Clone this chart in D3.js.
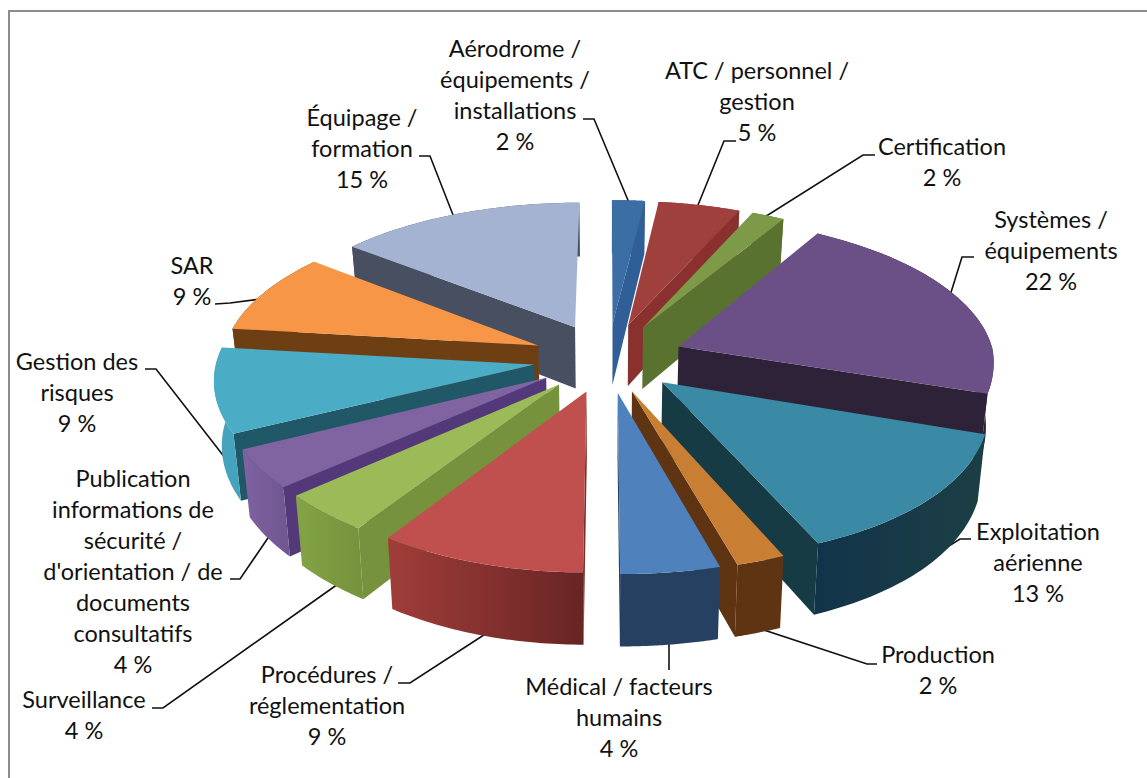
<!DOCTYPE html>
<html>
<head>
<meta charset="utf-8">
<script src="https://cdnjs.cloudflare.com/ajax/libs/d3/7.8.5/d3.min.js"></script>
<style>
  html, body { margin: 0; padding: 0; background: #fff; }
  text { font-family: Lato, "Open Sans", sans-serif; font-size: 23.5px; fill: #111; }
</style>
</head>
<body>
<div id="chart"></div>
<script>
//Share of occurrences per category, clockwise from the top of the pie
var categories = [
  ["Aérodrome /", "équipements /", "installations"],
  ["ATC / personnel /", "gestion"],
  ["Certification"],
  ["Systèmes /", "équipements"],
  ["Exploitation", "aérienne"],
  ["Production"],
  ["Médical / facteurs", "humains"],
  ["Procédures /", "réglementation"],
  ["Surveillance"],
  ["Publication", "informations de", "sécurité /", "d'orientation / de", "documents", "consultatifs"],
  ["Gestion des", "risques"],
  ["SAR"],
  ["Équipage /", "formation"]
];
var values = [2, 5, 2, 22, 13, 2, 4, 9, 4, 4, 9, 9, 15];

//Colours: top face, cut wall, outer wall (left end and right end of its gradient)
var faceColors = ["#3b6ea5", "#a0403d", "#7c9a47", "#6b5088", "#3a8aa6", "#c97f33", "#4f81bd", "#c0504d", "#9bbb59", "#8064a2", "#4bacc6", "#f79646", "#a5b3d3"];
var wallColors = ["#2f5f96", "#8a3130", "#5a7230", "#2e2238", "#163b45", "#5f3412", "#254061", "#7a2d2b", "#76923c", "#54397a", "#205867", "#6f3f14", "#474f60"];
var outerLeft = ["#2f5f96", "#8a3130", "#5a7230", "#2e2238", "#12344a", "#5f3412", "#254061", "#a03d3a", "#84a346", "#7f62a2", "#46a3bd", "#6f3f14", "#474f60"];
var outerRight = ["#2f5f96", "#8a3130", "#5a7230", "#2e2238", "#1c3f45", "#5f3412", "#254061", "#682523", "#76923c", "#6f5690", "#46a3bd", "#6f3f14", "#474f60"];

//Label layout: centre x, first baseline y, then the leader line
var labelX = [515, 757, 942, 1051, 1038, 938, 619, 327, 84, 133, 77, 192, 362];
var labelY = [57, 79, 155, 228, 540, 663, 695, 683, 708, 487, 370, 274, 126];
var leaders = [
  [[583, 119], [594, 119], [630, 205]],
  [[736, 141], [724, 141], [696, 210]],
  [[875, 155], [863, 155], [760, 220]],
  [[974, 257], [962, 257], [948, 302]],
  [[971, 539], [960, 539], [920, 564]],
  [[877, 664], [867, 664], [755, 627]],
  [[669, 670], [669, 636]],
  [[398, 683], [410, 683], [490, 631]],
  [[152, 708], [163, 708], [338, 584]],
  [[230, 579], [240, 579], [270, 535]],
  [[145, 369], [156, 369], [229, 463]],
  [[215, 304], [230, 303], [268, 298]],
  [[419, 156], [430, 156], [455, 220]]
];
var lineHeight = 31;

function createPieChart(){
  var width = 1147;
  var height = 778;
  var svg = d3.select("#chart")
    .append("svg")
    .attr("width", width)
    .attr("height", height)
    .style("display", "block");

  //chart frame, only its top and left sides are in the picture
  svg.append("path")
    .attr("d", d3.line()([[9, height], [9, 11], [width, 11]]))
    .attr("fill", "none")
    .attr("stroke", "#8c8c8c")
    .attr("stroke-width", 2);

  //Pie geometry, ground plane in px with perspective
  var cx = 608, cy = 349;
  var radius = 314, explode = 75, tilt = 0.461, depth = 63, apexDrop = 8;
  var distX = 2000, distXNearLeft = 2400, distY = 1900;

  var pie = d3.pie().sort(null).value(d => d)
    .startAngle(0).endAngle(2 * Math.PI);
  var slices = pie(values);
  slices.forEach((s, i) => { s.index = i; s.mid = (s.startAngle + s.endAngle) / 2; });

  //Horizontal scale at a ground point
  function scaleX(gx, gy){
    if(gy > 0 && gx > 0) return 1 + 0.0004 * gy + 9.1e-7 * gy * gy;
    var dx = (gx < 0 && gy > 0) ? distXNearLeft : distX;
    return dx / (dx - gy);
  }

  //Project a point of a slice: angle clockwise from the top, distance from the
  //slice apex, and 0 or 1 for top or bottom of the wall
  function project(s, angle, r, bottom){
    var gx = r * Math.sin(angle) + explode * Math.sin(s.mid);
    var gy = -r * Math.cos(angle) - explode * Math.cos(s.mid);
    var sx = scaleX(gx, gy);
    var sy = distY / (distY - gy);
    var drop = bottom ? depth * (1 + gy / 2600) : 0;
    var shrink = bottom ? 0.98 : 1;
    return [cx + gx * sx * shrink, cy + tilt * gy * sy + drop + apexDrop * (1 - r / radius)];
  }

  function arcPoints(s, bottom, reverse){
    var steps = d3.range(0, 41).map(d => s.startAngle + (s.endAngle - s.startAngle) * d / 40);
    if(reverse) steps.reverse();
    return steps.map(a => project(s, a, radius, bottom));
  }

  var line = d3.line().curve(d3.curveLinear);
  var closed = pts => line(pts) + "Z";

  //Walls seen from the camera: the cut on the clockwise end on the right half,
  //on the other end on the left half
  function cutWall(s){
    var a = s.mid < Math.PI ? s.endAngle : s.startAngle;
    return closed([
      project(s, a, 0, 0),
      project(s, a, radius, 0),
      project(s, a, radius, 1),
      project(s, a, 0, 1)
    ]);
  }

  //gradient on each outer wall
  var defs = svg.append("defs");
  var grads = defs.selectAll("linearGradient")
    .data(slices).enter().append("linearGradient")
      .attr("id", d => "outer" + d.index)
      .attr("gradientUnits", "objectBoundingBox");
  grads.append("stop").attr("offset", "0%").attr("stop-color", d => outerLeft[d.index]);
  grads.append("stop").attr("offset", "100%").attr("stop-color", d => outerRight[d.index]);

  //Leader lines go under the pie, so they stop at its edge
  svg.append("g")
    .attr("class", "leaders")
    .selectAll("path")
    .data(leaders)
    .enter().append("path")
      .attr("d", d => line(d))
      .attr("fill", "none")
      .attr("stroke", "#111")
      .attr("stroke-width", 1.6);

  //Painter order: the far slice first, then both sides coming towards the viewer
  var order = [12, 11, 10, 9, 8, 7, 0, 1, 2, 3, 4, 5, 6];
  var sorted = order.map(i => slices[i]);

  var groups = svg.append("g")
    .attr("class", "slices")
    .selectAll("g")
    .data(sorted)
    .enter().append("g");

  groups.append("path")
    .attr("d", cutWall)
    .attr("fill", d => wallColors[d.index]);

  groups.append("path")
    .attr("d", d => closed(arcPoints(d, 0, false).concat(arcPoints(d, 1, true))))
    .attr("fill", d => "url(#outer" + d.index + ")");

  groups.append("path")
    .attr("d", d => closed([project(d, d.startAngle, 0, 0)].concat(arcPoints(d, 0, false))))
    .attr("fill", d => faceColors[d.index]);

  //Labels, last row is the value
  var labels = svg.append("g")
    .attr("class", "labels")
    .selectAll("text")
    .data(slices)
    .enter().append("text")
      .attr("text-anchor", "middle");

  labels.selectAll("tspan")
    .data(d => categories[d.index].concat([d.value + " %"]).map(t => ({text: t, x: labelX[d.index], y: labelY[d.index]})))
    .enter().append("tspan")
      .attr("x", d => d.x)
      .attr("y", (d, i) => d.y + i * lineHeight)
      .text(d => d.text);
}

createPieChart();
</script>
</body>
</html>
